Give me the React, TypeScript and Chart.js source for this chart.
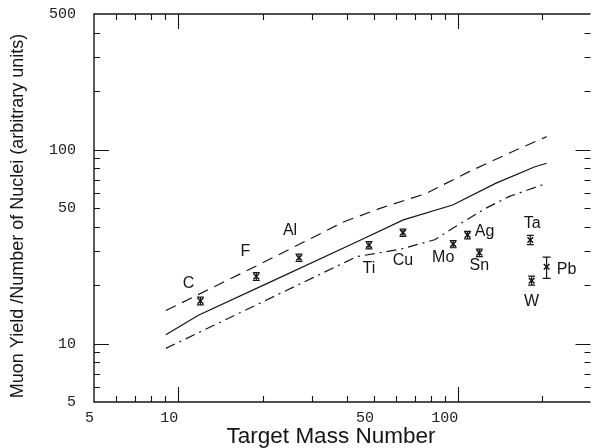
import React, { useEffect, useRef } from 'react';
import { Chart, registerables } from 'chart.js';

Chart.register(...registerables);

// ---- data ----
const elementNames = ['C', 'F', 'Al', 'Ti', 'Cu', 'Mo', 'Ag', 'Sn', 'Ta', 'W', 'Pb'];
const massNumbers = [12, 19, 27, 48, 63.5, 96, 108, 119, 181, 183, 207];
const muonYield = [16.6, 22.2, 27.7, 32.2, 37.3, 32.6, 36.3, 29.4, 34.2, 21.1, 24.9];
const yieldLow = [15.85, 21.2, 26.5, 30.8, 35.7, 31.2, 34.7, 28.1, 32.4, 20.0, 21.7];
const yieldHigh = [17.35, 23.2, 28.9, 33.6, 38.9, 34.0, 37.9, 30.7, 36.1, 22.3, 27.9];

const solidMass = [9.03, 11.8, 20.9, 43.5, 63.7, 95.6, 136, 188, 207];
const solidYield = [11.1, 14.0, 20.5, 33.5, 43.4, 51.8, 67.0, 81.6, 85.0];

const dashedMass = [9.03, 19.3, 39.1, 52.6, 77.0, 109.5, 151.6, 207];
const dashedYield = [14.8, 25.4, 42.5, 49.8, 59.5, 77.0, 95.7, 116.6];

const dashDotMass = [9.03, 43.5, 61.9, 82.4, 95.6, 125.4, 151.6, 207];
const dashDotYield = [9.45, 28.1, 30.6, 34.3, 39.3, 49.8, 57.2, 67.0];

const xTickLabels = [5, 10, 50, 100];
const yTickLabels = [5, 10, 50, 100, 500];
const xMajorTicks = [10, 100];
const xMinorTicks = [6, 7, 8, 9, 20, 30, 40, 50, 60, 70, 80, 90, 200];
const yMajorTicks = [10, 100];
const yMinorTicks = [6, 7, 8, 9, 20, 30, 40, 50, 60, 70, 80, 90, 200, 300, 400];

const xTitle = 'Target Mass Number';
const yTitle = 'Muon Yield /Number of Nuclei (arbitrary units)';

// label offsets (px) relative to each marker
const labelOffsets: [number, number][] = [
  [-12, -17], [-11, -25], [-9, -27], [0, 24], [0, 28], [-10, 14],
  [17, -3], [0, 12.5], [2, -16], [0, 21], [20, 3],
];

const INK = '#151515';

const toXY = (xs: number[], ys: number[]) => xs.map((x, i) => ({ x, y: ys[i] }));

const framePlugin = {
  id: 'frameTicks',
  afterDraw(chart: any) {
    const { ctx, chartArea } = chart;
    const { left, right, top, bottom } = chartArea;
    const xs = chart.scales.x;
    const ys = chart.scales.y;
    ctx.save();
    ctx.strokeStyle = INK;
    ctx.lineWidth = 1.4;
    ctx.beginPath();
    ctx.moveTo(right, top);
    ctx.lineTo(left, top);
    ctx.lineTo(left, bottom);
    ctx.lineTo(right, bottom);
    ctx.stroke();
    ctx.lineWidth = 1.1;
    const drawX = (vals: number[], len: number) => {
      vals.forEach((v) => {
        const px = Math.round(xs.getPixelForValue(v)) + 0.5;
        ctx.beginPath();
        ctx.moveTo(px, bottom);
        ctx.lineTo(px, bottom - len);
        ctx.moveTo(px, top);
        ctx.lineTo(px, top + len);
        ctx.stroke();
      });
    };
    const drawY = (vals: number[], len: number) => {
      vals.forEach((v) => {
        const py = Math.round(ys.getPixelForValue(v)) + 0.5;
        ctx.beginPath();
        ctx.moveTo(left, py);
        ctx.lineTo(left + len, py);
        ctx.moveTo(right, py);
        ctx.lineTo(right - len, py);
        ctx.stroke();
      });
    };
    drawX(xMajorTicks, 15);
    drawX(xMinorTicks, 6);
    drawY(yMajorTicks, 15);
    drawY(yMinorTicks, 6);

    // axis titles
    ctx.fillStyle = INK;
    ctx.font = '22.5px "Liberation Sans", Arial, sans-serif';
    ctx.textAlign = 'center';
    ctx.textBaseline = 'middle';
    ctx.fillText(xTitle, 331, 436.5);
    ctx.save();
    ctx.translate(18, 216);
    ctx.rotate(-Math.PI / 2);
    ctx.font = '18px "Liberation Sans", Arial, sans-serif';
    ctx.fillText(yTitle, 0, 0);
    ctx.restore();
    ctx.restore();
  },
};

const errorLabelPlugin = {
  id: 'errorLabels',
  afterDatasetsDraw(chart: any) {
    const { ctx } = chart;
    const ys = chart.scales.y;
    const meta = chart.getDatasetMeta(3);
    ctx.save();
    ctx.strokeStyle = INK;
    ctx.lineWidth = 1.2;
    meta.data.forEach((pt: any, i: number) => {
      const x = pt.x;
      const yLo = ys.getPixelForValue(yieldLow[i]);
      const yHi = ys.getPixelForValue(yieldHigh[i]);
      const cap = i === elementNames.length - 1 ? 4 : 3.5;
      ctx.beginPath();
      ctx.moveTo(x, yLo);
      ctx.lineTo(x, yHi);
      ctx.moveTo(x - cap, yLo);
      ctx.lineTo(x + cap, yLo);
      ctx.moveTo(x - cap, yHi);
      ctx.lineTo(x + cap, yHi);
      ctx.stroke();
    });
    ctx.fillStyle = INK;
    ctx.font = '16px "Liberation Sans", Arial, sans-serif';
    ctx.textAlign = 'center';
    ctx.textBaseline = 'middle';
    meta.data.forEach((pt: any, i: number) => {
      const [dx, dy] = labelOffsets[i];
      ctx.fillText(elementNames[i], pt.x + dx, pt.y + dy);
    });
    ctx.restore();
  },
};

export default function App() {
  const canvasRef = useRef<HTMLCanvasElement | null>(null);

  useEffect(() => {
    document.body.style.margin = '0';
    const canvas = canvasRef.current;
    if (!canvas) return;
    const tickFont = { family: '"Liberation Mono", "Courier New", monospace', size: 15 };
    const chart = new Chart(canvas, {
      type: 'scatter',
      data: {
        datasets: [
          {
            data: toXY(solidMass, solidYield),
            showLine: true,
            borderColor: INK,
            borderWidth: 1.2,
            pointRadius: 0,
            fill: false,
          },
          {
            data: toXY(dashedMass, dashedYield),
            showLine: true,
            borderColor: INK,
            borderWidth: 1.2,
            borderDash: [11, 7],
            pointRadius: 0,
            fill: false,
          },
          {
            data: toXY(dashDotMass, dashDotYield),
            showLine: true,
            borderColor: INK,
            borderWidth: 1.2,
            borderDash: [10, 5, 2, 5],
            pointRadius: 0,
            fill: false,
          },
          {
            data: toXY(massNumbers, muonYield),
            showLine: false,
            pointStyle: 'crossRot',
            pointRadius: 4,
            borderColor: INK,
            backgroundColor: INK,
            borderWidth: 1.5,
          },
        ],
      },
      options: {
        responsive: false,
        animation: false,
        devicePixelRatio: 1,
        layout: { padding: { top: 14, right: 0, left: 0, bottom: 0 } },
        plugins: {
          legend: { display: false },
          tooltip: { enabled: false },
        },
        scales: {
          x: {
            type: 'logarithmic',
            min: 5,
            max: 297,
            position: 'bottom',
            grid: { display: false, drawTicks: false },
            border: { display: false },
            title: { display: false },
            afterBuildTicks: (scale: any) => {
              scale.ticks = xTickLabels.map((v) => ({ value: v }));
            },
            afterFit: (scale: any) => {
              scale.height = 46;
              scale.paddingLeft = 0;
              scale.paddingRight = 0;
            },
            ticks: {
              font: tickFont,
              color: '#222',
              padding: 7,
              align: 'end',
              maxRotation: 0,
              autoSkip: false,
              callback: (v: any) => String(v),
            },
          },
          y: {
            type: 'logarithmic',
            min: 5,
            max: 500,
            grid: { display: false, drawTicks: false },
            border: { display: false },
            title: { display: false },
            afterBuildTicks: (scale: any) => {
              scale.ticks = yTickLabels.map((v) => ({ value: v }));
            },
            afterFit: (scale: any) => {
              scale.width = 94;
              scale.paddingTop = 0;
              scale.paddingBottom = 0;
            },
            ticks: {
              font: tickFont,
              color: '#222',
              padding: 18,
              autoSkip: false,
              callback: (v: any) => String(v),
            },
          },
        },
      },
      plugins: [framePlugin, errorLabelPlugin],
    } as any);
    return () => chart.destroy();
  }, []);

  return (
    <div style={{ width: 596, height: 448, background: '#fff' }}>
      <canvas ref={canvasRef} width={596} height={448} style={{ display: 'block' }} />
    </div>
  );
}
